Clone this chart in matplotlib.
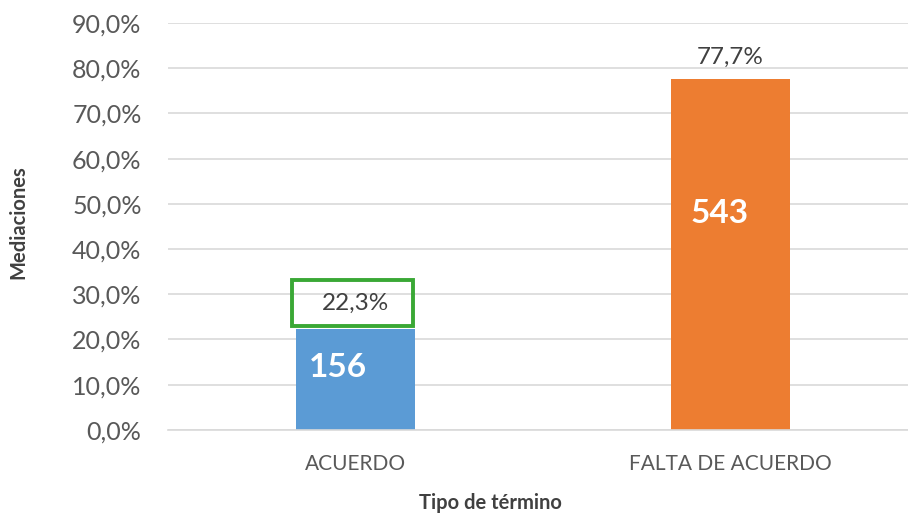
import numpy as np
import matplotlib.pyplot as plt
from matplotlib.patches import Rectangle
from matplotlib.ticker import FuncFormatter

categories = ["ACUERDO", "FALTA DE ACUERDO"]
percentages = [22.3, 77.7]
counts = [156, 543]
bar_colors = ["#5b9bd5", "#ed7d31"]

plt.rcParams['font.family'] = ['Lato', 'DejaVu Sans']

fig = plt.figure(figsize=(9.08, 5.13), dpi=100)
# gridlines run off the right edge in the reference
ax = fig.add_axes([0.185, 0.162, 0.826, 0.793])

x = np.arange(len(categories))
bars = ax.bar(x, percentages, width=0.315, color=bar_colors, zorder=2)

ax.set_ylim(0, 90)
ax.set_xlim(-0.5, 1.5)
ax.set_yticks(np.arange(0, 91, 10))
ax.yaxis.set_major_formatter(FuncFormatter(lambda v, p: f"{v:.1f}%".replace(".", ",")))
ax.grid(axis='y', color='#d9d9d9', linewidth=1.2, zorder=0)
ax.set_xticks(x)
ax.set_xticklabels(categories)
for s in ['top', 'right', 'left']:
    ax.spines[s].set_visible(False)
ax.spines['bottom'].set_color('#d9d9d9')
ax.spines['bottom'].set_linewidth(1.2)
ax.tick_params(axis='y', length=0, labelsize=18, labelcolor='#595959', pad=19)
ax.tick_params(axis='x', length=0, labelsize=15, labelcolor='#595959', pad=17)

ax.set_ylabel("Mediaciones", fontsize=14.5, fontweight='bold', color='#404040')
ax.yaxis.set_label_coords(-0.186, 0.51)
ax.set_xlabel("Tipo de término", fontsize=14.5, fontweight='bold', color='#404040')
ax.xaxis.set_label_coords(0.43, -0.155)

# percentage labels above bars
for i, p in enumerate(percentages):
    lbl = f"{p:.1f}%".replace(".", ",")
    if i == 0:
        ax.text(i, p + 5.8, lbl, ha='center', va='center', fontsize=17.5, color='#404040', zorder=4)
        b = bars[i]
        ax.add_patch(Rectangle((b.get_x() - 0.013, p + 0.7), b.get_width() + 0.008, 10.2,
                               fill=False, ec='#3aa835', lw=2.8, zorder=3))
    else:
        ax.text(i, p + 2.3, lbl, ha='center', va='bottom', fontsize=17.5, color='#404040')

# counts inside bars
ax.text(x[0] - 0.048, 13.8, str(counts[0]), ha='center', va='center',
        fontsize=24, fontweight='bold', color='white', zorder=3)
ax.text(x[1] - 0.03, 47.8, str(counts[1]), ha='center', va='center',
        fontsize=24, fontweight='bold', color='white', zorder=3)

fig.savefig("out.png", dpi=100)
